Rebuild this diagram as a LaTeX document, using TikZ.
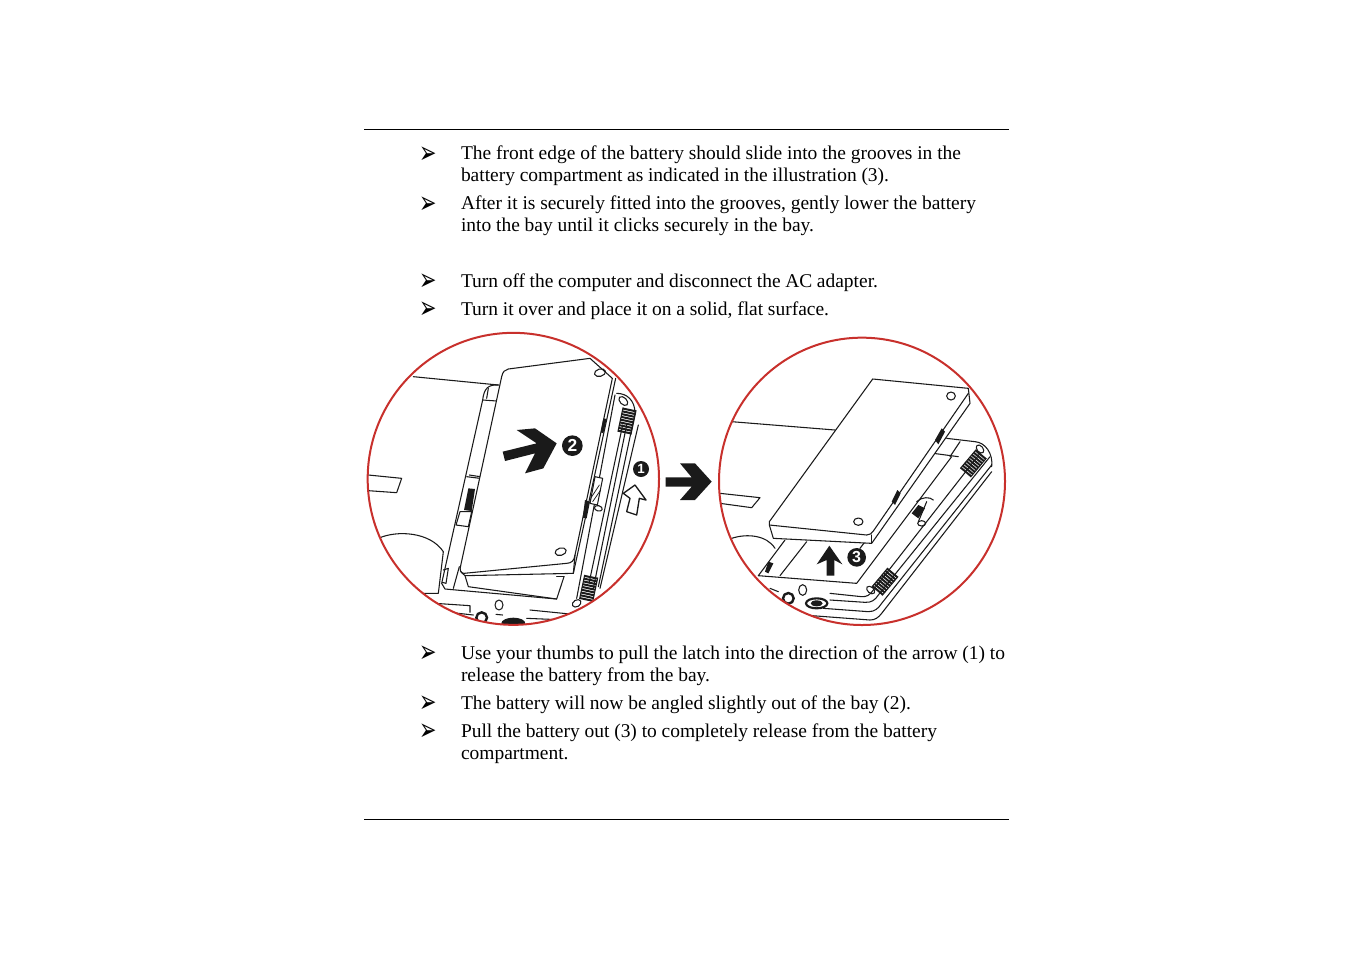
\documentclass[tikz,border=0pt]{standalone}
\usepackage{graphicx}
\usepackage{fontspec}
\setmainfont{Liberation Serif}
\newfontfamily\bulletfont{DejaVu Sans}
\newfontfamily\numfont{Liberation Sans}
\definecolor{ring}{HTML}{C8302C}
\definecolor{ink}{HTML}{1A1A1A}
\newlength{\pxunit}\setlength{\pxunit}{0.75pt}
\newcommand{\tline}[4]{\node[txt] (#1) at (461,#2+.5) {\makebox[#3\pxunit][s]{#4}};}
\newcommand{\bul}[2]{\node[bulletmark] (#1) at (428,#2+2.5) {\scalebox{1.2}[1.8]{\bulletfont ➢}};}
\newcommand{\grillbox}[4]{%
  \begin{scope}[shift={(#1,#2)},rotate=#3]
    \foreach \k in {-#4,...,#4}{\draw[line width=1.5pt,ink] (\k*8.5,-20)--(\k*8.5,20);}
    \draw[line width=.8pt,ink] (-#4*8.5-3,-20)--(#4*8.5+3,-20);
    \draw[line width=.8pt,ink] (-#4*8.5-3,20)--(#4*8.5+3,20);
  \end{scope}}
\tikzset{
  txt/.style={anchor=base west,inner sep=0pt,outer sep=0pt,font=\fontsize{14.6}{15}\selectfont},
  bulletmark/.style={anchor=center,inner sep=0pt,font=\fontsize{13}{13}\selectfont},
  rule/.style={line width=.6pt,black},
  ringline/.style={line width=1.5pt,ring},
  sk/.style={line width=.8pt,ink,line join=round,line cap=round},
  skthin/.style={line width=.55pt,ink,line join=round,line cap=round},
  solidarrow/.style={fill=ink,draw=none},
  numdot/.style={circle,fill=ink,inner sep=0pt,text=white,font=\numfont\bfseries},
  zoomL/.style={shift={(360,325)},x=.25pt,y=-.25pt},
  zoomR/.style={shift={(660,325)},x=.25pt,y=-.25pt}
}
\begin{document}
\begin{tikzpicture}[x=.75pt,y=-.75pt]
\useasboundingbox (0,0) rectangle (1348,954);
\fill[white] (0,0) rectangle (1348,954);
\coordinate (r1a) at (364,129.5); \coordinate (r1b) at (1009,129.5);
\coordinate (r2a) at (364,819.5); \coordinate (r2b) at (1009,819.5);
\draw[rule] (r1a)--(r1b);
\draw[rule] (r2a)--(r2b);
\bul{b1}{152.5}\tline{t1}{159}{500}{The front edge of the battery should slide into the grooves in the}
\tline{t2}{181}{428}{battery compartment as indicated in the illustration (3).}
\bul{b2}{202.5}\tline{t3}{209}{515}{After it is securely fitted into the grooves, gently lower the battery}
\tline{t4}{231}{353}{into the bay until it clicks securely in the bay.}
\bul{b3}{279.5}\tline{t5}{287}{417}{Turn off the computer and disconnect the AC adapter.}
\bul{b4}{307.5}\tline{t6}{315}{368}{Turn it over and place it on a solid, flat surface.}
\bul{b5}{651.5}\tline{t7}{659}{544}{Use your thumbs to pull the latch into the direction of the arrow (1) to}
\tline{t8}{681}{249}{release the battery from the bay.}
\bul{b6}{701.5}\tline{t9}{709}{450}{The battery will now be angled slightly out of the bay (2).}
\bul{b7}{729.5}\tline{t10}{737}{476}{Pull the battery out (3) to completely release from the battery}
\node[txt] (t11) at (461,759.5) {compartment.};

% LEFT ILLUSTRATION
\begin{scope}[zoomL]
\begin{scope}
\clip (460,461.5) ellipse [x radius=437,y radius=438];
\draw[sk] (160,155)--(415,180);
\draw[sk] (25,450)--(125,460)--(110,503)--(25,497);
\draw[sk] (55,640) .. controls (110,615) and (210,620) .. (250,680);
\draw[sk] (250,680)--(235,805)--(190,805);
% hinge strip
\draw[sk] (415,180) .. controls (385,178) and (372,190) .. (368,225)--(245,775)--(255,792)--(590,822)--(612,755);
\draw[sk] (368,225)--(410,228);
\draw[sk] (385,190)--(380,220);
\draw[sk] (328,450)--(360,455);
\draw[sk] (250,735)--(265,730)--(258,775)--(247,772);
\draw[sk] (300,560)--(288,600)--(325,605)--(335,560)--cycle;
\fill[ink] (325,490)--(345,492)--(335,558)--(312,555)--cycle;
\draw[sk] (320,455)--(360,460);
\draw[sk] (280,790)--(298,725);
% battery
\draw[sk,fill=white] (445,132)--(690,100)--(757,160)--(645,690)
  .. controls (642,708) and (635,714) .. (620,715)--(312,745)
  .. controls (302,745) and (298,735) .. (302,722)--(425,155)
  .. controls (428,140) and (435,134) .. (445,132)--cycle;
\draw[sk] (645,690)--(640,745)--(315,752)--(302,740);
\draw[sk] (315,752)--(325,785)--(590,822);
\draw[sk] (590,755)--(612,755);
\draw[sk] (767,160)--(640,745);
\draw[sk,rotate around={15:(720,143)}] (720,143) ellipse [x radius=17,y radius=11];
\draw[sk,rotate around={15:(602,680)}] (602,680) ellipse [x radius=17,y radius=11];
% body rails
\draw[sk] (770,205) .. controls (800,205) and (825,225) .. (825,265)--(715,785);
\draw[sk] (765,210)--(650,820);
\draw[sk] (800,300)--(700,790);
\draw[sk] (788,300)--(688,770);
\draw[sk] (835,300)--(720,790);
\draw[sk,rotate around={-45:(790,228)}] (790,228) ellipse [x radius=16,y radius=10];
\draw[sk,rotate around={30:(650,835)}] (650,835) ellipse [x radius=14,y radius=10];
\draw[sk,fill=white] (705,455)--(728,460)--(712,540)--(690,535)--cycle;
\draw[skthin] (692,520)--(718,480);
\draw[skthin] (698,530)--(722,495);
\draw[sk,rotate around={-15:(715,550)}] (715,550) ellipse [x radius=12,y radius=8];
\fill[ink] (675,525)--(690,530)--(680,580)--(668,578)--cycle;
\fill[ink] (730,280)--(740,282)--(730,325)--(722,322)--cycle;
\grillbox{801}{288}{78}{4}
\grillbox{686}{790}{78}{4}
% bottom details
\draw[sk] (225,835)--(330,842)--(330,862);
\draw[sk] (510,855)--(640,868);
\draw[sk] (250,860)--(340,870);
\draw[sk] (500,880)--(620,885);
\draw[sk] (417,840) ellipse [x radius=12,y radius=15];
\draw[sk] (408,868)--(428,870);
\draw[line width=1.8pt,ink] (365,878) circle [radius=16];
\fill[ink] (460,895) ellipse [x radius=36,y radius=17];
\end{scope}
\draw[ringline] (460,461.5) ellipse [x radius=437,y radius=438];
\fill[solidarrow] (428,380)--(530,355)--(470,315)--(525,310)--(590,355)--(550,430)--(495,445)--(525,385)--(435,408)--cycle;
\node[numdot,minimum size=15.5pt,font=\numfont\bfseries\fontsize{13}{13}\selectfont] (n2) at (637,362) {2};
\node[numdot,minimum size=12pt,font=\numfont\bfseries\fontsize{10}{10}\selectfont] (n1) at (843,432) {1};
\draw[line width=1pt,ink,line join=round,fill=white] (800,560)--(810,520)--(790,505)--(825,480)--(858,525)--(838,520)--(830,570)--cycle;
\end{scope}

% BIG ARROW AND RIGHT ILLUSTRATION
\begin{scope}[zoomR]
\fill[solidarrow] (17,457)--(95,457)--(60,415)--(105,415)--(155,470)--(105,525)--(60,525)--(95,485)--(17,485)--cycle;
\begin{scope}
\clip (606,469) ellipse [x radius=429,y radius=431];
\draw[sk] (215,290)--(525,315);
\draw[sk] (180,505)--(300,518)--(275,548)--(180,535);
\draw[sk] (215,640) .. controls (260,625) and (320,630) .. (345,670);
% bay
\draw[sk] (295,752)--(375,645);
\draw[sk] (360,752)--(440,650);
\draw[sk] (295,752)--(590,775)--(875,395);
\draw[sk] (820,385)--(895,395);
\draw[sk] (860,340)--(945,350);
\draw[sk] (900,350)--(870,395);
\draw[sk] (810,390)--(600,670);
\fill[ink] (315,740)--(325,710)--(340,715)--(325,745)--cycle;
% outer rails
\draw[sk] (510,805)--(605,815) .. controls (620,816) and (630,810) .. (640,795)--(960,385);
\draw[sk] (510,825)--(615,832) .. controls (635,833) and (645,825) .. (655,810)--(990,395);
\draw[sk] (490,850)--(625,860) .. controls (645,860) and (655,850) .. (665,835)--(995,420);
\draw[sk] (430,870)--(630,885) .. controls (645,885) and (655,878) .. (665,865)--(995,440);
\draw[sk] (945,350) .. controls (975,352) and (1000,385) .. (995,425);
\draw[sk,rotate around={-50:(960,372)}] (960,372) ellipse [x radius=14,y radius=9];
\draw[sk,rotate around={-40:(632,795)}] (632,795) ellipse [x radius=14,y radius=9];
% battery
\draw[sk,fill=white] (638,162)--(925,190)--(930,235)--(635,655)--(340,640)--(328,600)--(328,590)--cycle;
\draw[sk] (328,600)--(620,630) .. controls (630,630) and (635,625) .. (640,618)--(925,205);
\draw[sk] (635,630)--(635,655);
\draw[sk] (873,213) ellipse [x radius=13,y radius=12];
\draw[sk] (595,590) ellipse [x radius=14,y radius=11];
\fill[ink] (825,345)--(845,310)--(855,320)--(835,358)--cycle;
\fill[ink] (695,530)--(712,495)--(722,505)--(705,540)--cycle;
% latch
\draw[sk] (770,530) .. controls (785,515) and (810,515) .. (820,525);
\draw[sk] (800,530)--(775,590);
\fill[ink] (755,565)--(775,540)--(795,550)--(775,580)--cycle;
\draw[sk] (785,595) ellipse [x radius=12,y radius=8];
\grillbox{940}{415}{50}{4}
\grillbox{675}{770}{50}{4}
% bottom details
\draw[sk] (428,795) ellipse [x radius=12,y radius=16];
\draw[line width=1.8pt,ink] (385,820) circle [radius=16];
\draw[line width=1.6pt,ink] (470,835) ellipse [x radius=32,y radius=15];
\fill[ink] (470,835) ellipse [x radius=18,y radius=9];
\draw[sk] (330,790)--(355,800);
\end{scope}
\draw[ringline] (606,469) ellipse [x radius=429,y radius=431];
\fill[solidarrow] (500,752)--(500,705)--(470,718)--(508,662)--(547,718)--(523,705)--(523,752)--cycle;
\node[numdot,minimum size=14pt,font=\numfont\bfseries\fontsize{12}{12}\selectfont] (n3) at (590,697) {3};
\end{scope}
\end{tikzpicture}
\end{document}
